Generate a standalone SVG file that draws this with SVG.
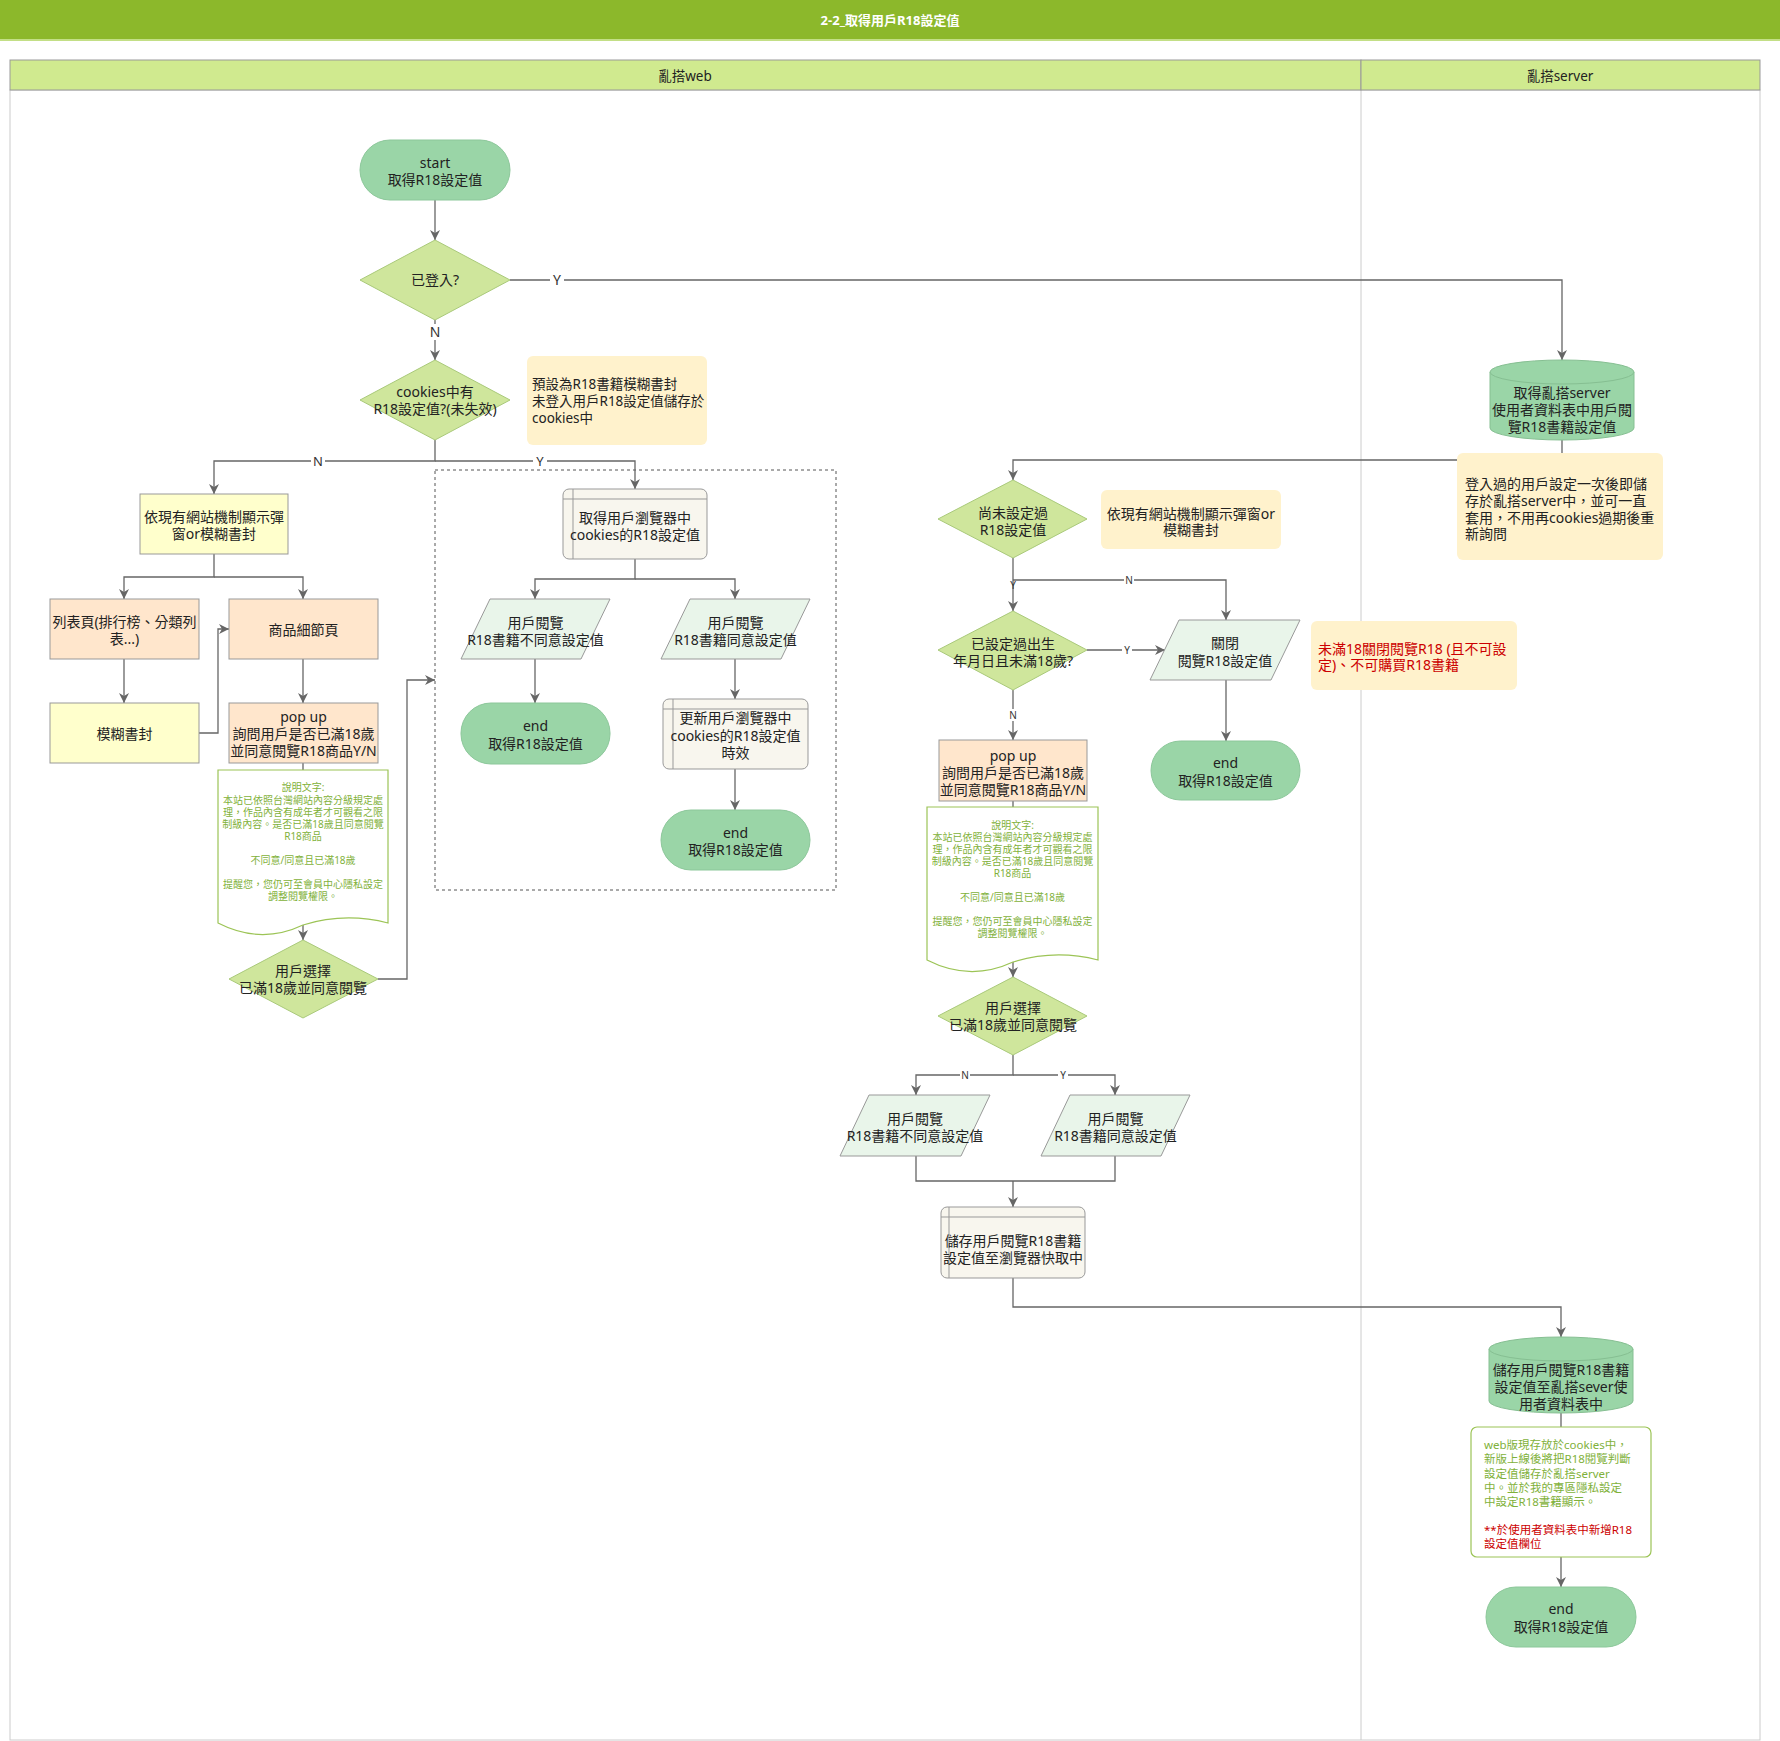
<svg xmlns="http://www.w3.org/2000/svg" width="1780" height="1741" viewBox="0 0 1780 1741">
<defs>
<marker id="arr" viewBox="0 0 10 10" refX="10" refY="5" markerWidth="10" markerHeight="10" markerUnits="userSpaceOnUse" orient="auto">
<path d="M0,0 L10,5 L0,10 L3,5 Z" fill="#666"/>
</marker>
<style>
text{font-family:"Noto Sans","Noto Sans CJK TC",sans-serif;font-size:14px;fill:#222;}
.c{text-anchor:middle;}
.ln{fill:none;stroke:#666;stroke-width:1.3;}
.ar{marker-end:url(#arr);}
.lbl{font-size:11px;text-anchor:middle;fill:#333;}
.lb{fill:#fff;}
.term{fill:#9ad5a7;stroke:#8cc79a;stroke-width:1;}
.dia{fill:#cfe69c;stroke:#a9c97a;stroke-width:1;}
.yel{fill:#ffffcc;stroke:#999;stroke-width:1;}
.pch{fill:#ffe6cc;stroke:#999;stroke-width:1;}
.par{fill:#e9f5ea;stroke:#999;stroke-width:1;}
.sto{fill:#f8f6ee;stroke:#999;stroke-width:1;}
.stl{fill:none;stroke:#999;stroke-width:1;}
.note{fill:#fff2cc;}
.cyl{fill:#9ad5a7;stroke:#86bf92;stroke-width:1;}
.doc{fill:#fff;stroke:#9cc456;stroke-width:1.2;}
.dt{font-size:10px;fill:#7fb13a;text-anchor:middle;}
.gt{font-size:11.5px;fill:#7fb13a;}
.rt{fill:#cc0000;}
</style>
</defs>

<!-- title & lanes -->
<g id="pool">
<rect x="0" y="0" width="1780" height="40" fill="#8cb82b"/>
<rect x="0" y="39" width="1780" height="2" fill="#c3df86"/>
<text x="890" y="25" class="c" style="fill:#fff;font-size:13px;font-weight:bold;">2-2_取得用戶R18設定值</text>
<rect x="10" y="90" width="1750" height="1650" fill="#fff" stroke="#ccc" stroke-width="1"/>
<line x1="1361" y1="90" x2="1361" y2="1740" stroke="#ccc" stroke-width="1"/>
<rect x="10" y="60" width="1351" height="30" fill="#d0ea8f" stroke="#999" stroke-width="1"/>
<rect x="1361" y="60" width="399" height="30" fill="#d0ea8f" stroke="#999" stroke-width="1"/>
<text x="685" y="81" class="c" style="font-size:13.5px;">亂搭web</text>
<text x="1560" y="81" class="c" style="font-size:13.5px;">亂搭server</text>
</g>

<!-- dashed group -->
<g id="group-cookies">
<rect x="435" y="470" width="401" height="420" fill="none" stroke="#555" stroke-width="1" stroke-dasharray="3,3"/>
</g>

<!-- connectors -->
<g id="connectors">
<path class="ln ar" d="M435,200 V240"/>
<path class="ln ar" d="M510,280 H1562 V360"/>
<path class="ln ar" d="M435,320 V360"/>
<path class="ln ar" d="M435,440 V461 H214 V494"/>
<path class="ln ar" d="M435,461 H635 V489"/>
<path class="ln ar" d="M214,554 V577 H124 V599"/>
<path class="ln ar" d="M214,577 H303 V599"/>
<path class="ln ar" d="M124,659 V703"/>
<path class="ln ar" d="M199,733 H218 V629 H229"/>
<path class="ln ar" d="M303,659 V703"/>
<path class="ln" d="M303,763 V770"/>
<path class="ln ar" d="M303,925 V940"/>
<path class="ln ar" d="M378,979 H407 V680 H435"/>
<path class="ln ar" d="M635,559 V579 H535 V599"/>
<path class="ln ar" d="M635,579 H735 V599"/>
<path class="ln ar" d="M535,659 V703"/>
<path class="ln ar" d="M735,659 V699"/>
<path class="ln ar" d="M735,769 V810"/>
<path class="ln ar" d="M1562,440 V460 H1013 V480"/>
<path class="ln ar" d="M1013,558 V611"/>
<path class="ln ar" d="M1013,580 H1226 V620"/>
<path class="ln ar" d="M1087,650 H1165"/>
<path class="ln ar" d="M1226,680 V741"/>
<path class="ln ar" d="M1013,690 V740"/>
<path class="ln" d="M1013,801 V807"/>
<path class="ln ar" d="M1013,962 V977"/>
<path class="ln ar" d="M1013,1055 V1075 H916 V1095"/>
<path class="ln ar" d="M1013,1075 H1115 V1095"/>
<path class="ln" d="M916,1156 V1181 H1115 V1156"/>
<path class="ln ar" d="M1013,1181 V1207"/>
<path class="ln ar" d="M1013,1278 V1307 H1561 V1337"/>
<path class="ln" d="M1561,1413 V1427"/>
<path class="ln ar" d="M1561,1557 V1587"/>
<!-- labels -->
<rect class="lb" x="550" y="271" width="14" height="17"/><text class="lbl" x="557" y="285" style="font-size:14px;">Y</text>
<rect class="lb" x="428" y="324" width="14" height="16"/><text class="lbl" x="435" y="337" style="font-size:14px;">N</text>
<rect class="lb" x="311" y="454" width="14" height="14"/><text class="lbl" x="318" y="466" style="font-size:13px;">N</text>
<rect class="lb" x="533" y="454" width="14" height="14"/><text class="lbl" x="540" y="466" style="font-size:13px;">Y</text>
<text class="lbl" x="1013" y="589" style="font-size:10px;">Y</text>
<rect class="lb" x="1124" y="574" width="10" height="12"/><text class="lbl" x="1129" y="584" style="font-size:10px;">N</text>
<rect class="lb" x="1122" y="644" width="10" height="12"/><text class="lbl" x="1127" y="654" style="font-size:10px;">Y</text>
<rect class="lb" x="1008" y="709" width="10" height="12"/><text class="lbl" x="1013" y="719" style="font-size:10px;">N</text>
<rect class="lb" x="960" y="1069" width="10" height="12"/><text class="lbl" x="965" y="1079" style="font-size:10px;">N</text>
<rect class="lb" x="1058" y="1069" width="10" height="12"/><text class="lbl" x="1063" y="1079" style="font-size:10px;">Y</text>
</g>

<!-- nodes -->
<g id="start"><rect class="term" x="360" y="140" width="150" height="60" rx="30"/>
<text class="c" x="435" y="168">start</text><text class="c" x="435" y="185">取得R18設定值</text></g>

<g id="logged-in"><polygon class="dia" points="360,280 435,240 510,280 435,320"/>
<text class="c" x="435" y="285">已登入?</text></g>

<g id="has-cookie"><polygon class="dia" points="360,400 435,360 510,400 435,440"/>
<text class="c" x="435" y="397">cookies中有</text><text class="c" x="435" y="414">R18設定值?(未失效)</text></g>

<g id="note-default"><rect class="note" x="527" y="356" width="180" height="89" rx="6"/>
<text x="532" y="389" style="font-size:13.5px;">預設為R18書籍模糊書封</text>
<text x="532" y="406" style="font-size:13.5px;">未登入用戶R18設定值儲存於</text>
<text x="532" y="423" style="font-size:13.5px;">cookies中</text></g>

<g id="show-blur"><rect class="yel" x="140" y="494" width="148" height="60"/>
<text class="c" x="214" y="522">依現有網站機制顯示彈</text><text class="c" x="214" y="539">窗or模糊書封</text></g>

<g id="list-page"><rect class="pch" x="50" y="599" width="149" height="60"/>
<text class="c" x="124.5" y="627">列表頁(排行榜、分類列</text><text class="c" x="124.5" y="644">表...)</text></g>

<g id="detail-page"><rect class="pch" x="229" y="599" width="149" height="60"/>
<text class="c" x="303.5" y="635">商品細節頁</text></g>

<g id="blur-cover"><rect class="yel" x="50" y="703" width="149" height="60"/>
<text class="c" x="124.5" y="739">模糊書封</text></g>

<g id="popup-1"><rect class="pch" x="229" y="703" width="149" height="60"/>
<text class="c" x="303.5" y="722">pop up</text><text class="c" x="303.5" y="739">詢問用戶是否已滿18歲</text><text class="c" x="303.5" y="756">並同意閱覽R18商品Y/N</text></g>

<g id="doc-1"><path class="doc" d="M218,770 H388 V923 Q345,912 303,925 Q261,945 218,923 Z"/>
<text class="dt" x="303" y="791">說明文字:</text>
<text class="dt" x="303" y="804">本站已依照台灣網站內容分級規定處</text>
<text class="dt" x="303" y="816">理，作品內含有成年者才可觀看之限</text>
<text class="dt" x="303" y="828">制級內容。是否已滿18歲且同意閱覽</text>
<text class="dt" x="303" y="840">R18商品</text>
<text class="dt" x="303" y="864">不同意/同意且已滿18歲</text>
<text class="dt" x="303" y="888">提醒您，您仍可至會員中心隱私設定</text>
<text class="dt" x="303" y="900">調整閱覽權限。</text></g>

<g id="choose-1"><polygon class="dia" points="229,979 303,940 378,979 303,1018"/>
<text class="c" x="303" y="976">用戶選擇</text><text class="c" x="303" y="993">已滿18歲並同意閱覽</text></g>

<g id="get-cookie"><rect class="sto" x="563" y="489" width="144" height="70" rx="6"/>
<path class="stl" d="M563,499 H707 M573,489 V559"/>
<text class="c" x="635" y="523">取得用戶瀏覽器中</text><text class="c" x="635" y="540">cookies的R18設定值</text></g>

<g id="disagree-1"><path class="par" d="M490,599 H610 L581,659 H461 Z"/>
<text class="c" x="535.5" y="628">用戶閱覽</text><text class="c" x="535.5" y="645">R18書籍不同意設定值</text></g>

<g id="agree-1"><path class="par" d="M690,599 H810 L781,659 H661 Z"/>
<text class="c" x="735.5" y="628">用戶閱覽</text><text class="c" x="735.5" y="645">R18書籍同意設定值</text></g>

<g id="end-1"><rect class="term" x="461" y="703" width="149" height="61" rx="30"/>
<text class="c" x="535.5" y="731">end</text><text class="c" x="535.5" y="749">取得R18設定值</text></g>

<g id="update-cookie"><rect class="sto" x="663" y="699" width="145" height="70" rx="6"/>
<path class="stl" d="M663,709 H808 M673,699 V769"/>
<text class="c" x="735.5" y="723">更新用戶瀏覽器中</text><text class="c" x="735.5" y="741">cookies的R18設定值</text><text class="c" x="735.5" y="758">時效</text></g>

<g id="end-2"><rect class="term" x="661" y="810" width="149" height="60" rx="30"/>
<text class="c" x="735.5" y="838">end</text><text class="c" x="735.5" y="855">取得R18設定值</text></g>

<g id="get-server"><path class="cyl" d="M1490,372 A72,12 0 0 1 1634,372 V428 A72,12 0 0 1 1490,428 Z"/>
<path class="cyl" d="M1490,372 A72,12 0 0 0 1634,372" fill="none"/>
<text class="c" x="1562" y="398">取得亂搭server</text><text class="c" x="1562" y="415">使用者資料表中用戶閱</text><text class="c" x="1562" y="432">覽R18書籍設定值</text></g>

<g id="note-server"><rect class="note" x="1457" y="453" width="206" height="107" rx="6"/>
<text x="1465" y="489">登入過的用戶設定一次後即儲</text>
<text x="1465" y="506">存於亂搭server中，並可一直</text>
<text x="1465" y="523">套用，不用再cookies過期後重</text>
<text x="1465" y="539">新詢問</text></g>

<g id="not-set"><polygon class="dia" points="938,519 1013,480 1087,519 1013,558"/>
<text class="c" x="1013" y="518">尚未設定過</text><text class="c" x="1013" y="535">R18設定值</text></g>

<g id="note-existing"><rect class="note" x="1101" y="490" width="180" height="59" rx="6"/>
<text class="c" x="1191" y="519">依現有網站機制顯示彈窗or</text><text class="c" x="1191" y="535">模糊書封</text></g>

<g id="under-18"><polygon class="dia" points="938,650 1013,611 1087,650 1013,690"/>
<text class="c" x="1013" y="649">已設定過出生</text><text class="c" x="1013" y="666">年月日且未滿18歲?</text></g>

<g id="close-r18"><path class="par" d="M1179,620 H1300 L1271,680 H1150 Z"/>
<text class="c" x="1225" y="648">關閉</text><text class="c" x="1225" y="666">閱覽R18設定值</text></g>

<g id="note-red"><rect class="note" x="1311" y="621" width="206" height="69" rx="6"/>
<text class="rt" x="1318" y="654">未滿18關閉閱覽R18 (且不可設</text>
<text class="rt" x="1318" y="670">定)、不可購買R18書籍</text></g>

<g id="end-3"><rect class="term" x="1151" y="741" width="149" height="59" rx="29.5"/>
<text class="c" x="1225.5" y="768">end</text><text class="c" x="1225.5" y="786">取得R18設定值</text></g>

<g id="popup-2"><rect class="pch" x="939" y="740" width="148" height="61"/>
<text class="c" x="1013" y="761">pop up</text><text class="c" x="1013" y="778">詢問用戶是否已滿18歲</text><text class="c" x="1013" y="795">並同意閱覽R18商品Y/N</text></g>

<g id="doc-2"><path class="doc" d="M927,807 H1098 V960 Q1055,949 1013,962 Q970,982 927,960 Z"/>
<text class="dt" x="1012.5" y="829">說明文字:</text>
<text class="dt" x="1012.5" y="841">本站已依照台灣網站內容分級規定處</text>
<text class="dt" x="1012.5" y="853">理，作品內含有成年者才可觀看之限</text>
<text class="dt" x="1012.5" y="865">制級內容。是否已滿18歲且同意閱覽</text>
<text class="dt" x="1012.5" y="877">R18商品</text>
<text class="dt" x="1012.5" y="901">不同意/同意且已滿18歲</text>
<text class="dt" x="1012.5" y="925">提醒您，您仍可至會員中心隱私設定</text>
<text class="dt" x="1012.5" y="937">調整閱覽權限。</text></g>

<g id="choose-2"><polygon class="dia" points="938,1016 1013,977 1087,1016 1013,1055"/>
<text class="c" x="1013" y="1013">用戶選擇</text><text class="c" x="1013" y="1030">已滿18歲並同意閱覽</text></g>

<g id="disagree-2"><path class="par" d="M869,1095 H990 L961,1156 H840 Z"/>
<text class="c" x="915" y="1124">用戶閱覽</text><text class="c" x="915" y="1141">R18書籍不同意設定值</text></g>

<g id="agree-2"><path class="par" d="M1070,1095 H1190 L1161,1156 H1041 Z"/>
<text class="c" x="1115.5" y="1124">用戶閱覽</text><text class="c" x="1115.5" y="1141">R18書籍同意設定值</text></g>

<g id="save-cache"><rect class="sto" x="941" y="1207" width="144" height="71" rx="6"/>
<path class="stl" d="M941,1217 H1085 M949,1207 V1278"/>
<text class="c" x="1013" y="1246">儲存用戶閱覽R18書籍</text><text class="c" x="1013" y="1263">設定值至瀏覽器快取中</text></g>

<g id="save-server"><path class="cyl" d="M1489,1349 A72,12 0 0 1 1633,1349 V1401 A72,12 0 0 1 1489,1401 Z"/>
<path class="cyl" d="M1489,1349 A72,12 0 0 0 1633,1349" fill="none"/>
<text class="c" x="1561" y="1375">儲存用戶閱覽R18書籍</text><text class="c" x="1561" y="1392">設定值至亂搭sever使</text><text class="c" x="1561" y="1409">用者資料表中</text></g>

<g id="note-green"><rect x="1471" y="1427" width="180" height="130" rx="6" fill="#fff" stroke="#9cc456" stroke-width="1.2"/>
<text class="gt" x="1484" y="1449">web版現存放於cookies中，</text>
<text class="gt" x="1484" y="1463">新版上線後將把R18閱覽判斷</text>
<text class="gt" x="1484" y="1477.5">設定值儲存於亂搭server</text>
<text class="gt" x="1484" y="1492">中。並於我的專區隱私設定</text>
<text class="gt" x="1484" y="1506">中設定R18書籍顯示。</text>
<text class="gt rt" x="1484" y="1534">**於使用者資料表中新增R18</text>
<text class="gt rt" x="1484" y="1548">設定值欄位</text></g>

<g id="end-4"><rect class="term" x="1486" y="1587" width="150" height="60" rx="30"/>
<text class="c" x="1561" y="1614">end</text><text class="c" x="1561" y="1632">取得R18設定值</text></g>
</svg>
